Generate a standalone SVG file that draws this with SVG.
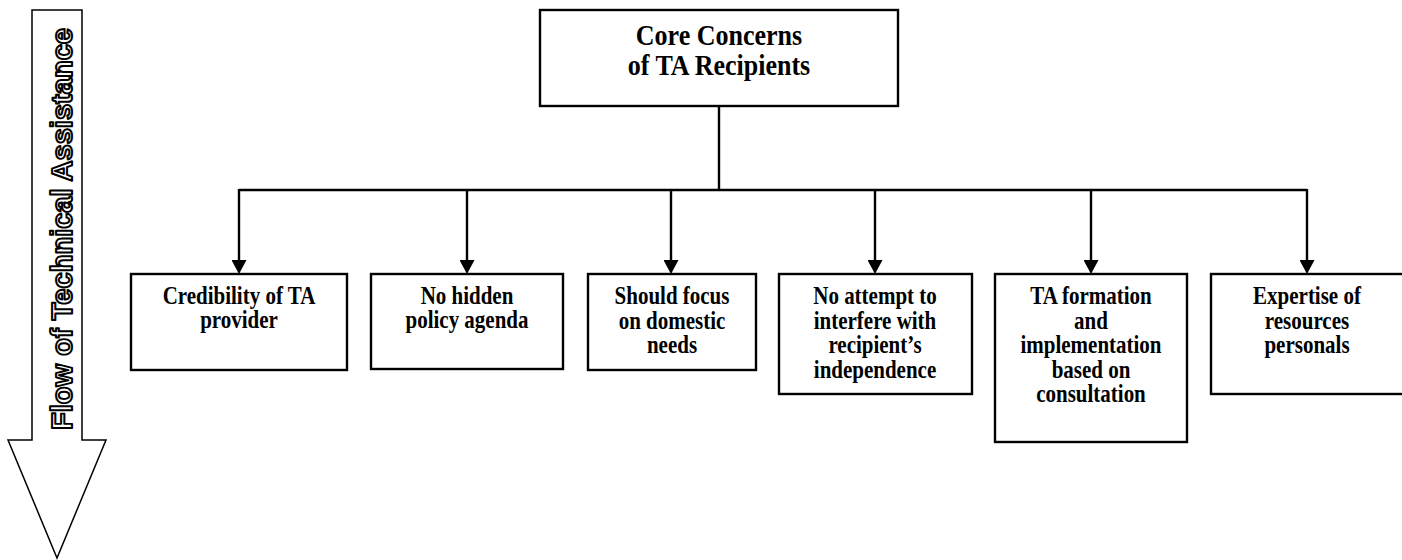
<svg xmlns="http://www.w3.org/2000/svg" width="1402" height="560" viewBox="0 0 1402 560">
  <style>
    .box { fill: #ffffff; stroke: #000000; stroke-width: 2.4; }
    .conn { fill: none; stroke: #000000; stroke-width: 2.4; }
    .lbl { font-family: "Liberation Serif", "Times New Roman", serif; font-weight: bold; font-size: 21px; text-anchor: middle; fill: #000000; }
    .title { font-family: "Liberation Serif", "Times New Roman", serif; font-weight: bold; font-size: 26px; text-anchor: middle; fill: #000000; }
    .flow { font-family: "Liberation Sans", Arial, sans-serif; font-weight: bold; font-size: 30px; text-anchor: middle; fill: #ffffff; stroke: #000000; stroke-width: 2; stroke-linejoin: round; }
  </style>
  <defs>
    <marker id="arrow" viewBox="0 0 14 15" markerWidth="14" markerHeight="15" refX="2" refY="7.5" orient="auto" markerUnits="userSpaceOnUse">
      <path d="M0,0 L14,7.5 L0,15 z" fill="#000000"/>
    </marker>
  </defs>
  <rect x="0" y="0" width="1402" height="560" fill="#ffffff"/>

  <g id="flow-arrow">
    <polygon points="32,10 82,10 82,440 106,440 57,558 8,440 32,440" fill="#ffffff" stroke="#000000" stroke-width="1.5"/>
    <text class="flow" transform="translate(72,229) rotate(-90)" x="0" y="0" textLength="402" lengthAdjust="spacingAndGlyphs">Flow of Technical Assistance</text>
  </g>

  <g id="connectors">
    <line class="conn" x1="719" y1="106" x2="719" y2="190"/>
    <line class="conn" x1="239" y1="190" x2="1307" y2="190"/>
    <line class="conn" x1="239" y1="189" x2="239" y2="262" marker-end="url(#arrow)"/>
    <line class="conn" x1="467" y1="190" x2="467" y2="262" marker-end="url(#arrow)"/>
    <line class="conn" x1="671" y1="190" x2="671" y2="262" marker-end="url(#arrow)"/>
    <line class="conn" x1="875" y1="190" x2="875" y2="262" marker-end="url(#arrow)"/>
    <line class="conn" x1="1091" y1="190" x2="1091" y2="262" marker-end="url(#arrow)"/>
    <line class="conn" x1="1307" y1="189" x2="1307" y2="262" marker-end="url(#arrow)"/>
  </g>

  <g id="core">
    <rect class="box" x="540" y="10" width="358" height="96"/>
    <text class="title" transform="translate(719,45) scale(1,1.1)">Core Concerns</text>
    <text class="title" transform="translate(719,75) scale(1,1.1)">of TA Recipients</text>
  </g>

  <g id="credibility">
    <rect class="box" x="131" y="274" width="216" height="96"/>
    <text class="lbl" transform="translate(239,304) scale(1,1.15)">Credibility of TA</text>
    <text class="lbl" transform="translate(239,328) scale(1,1.15)">provider</text>
  </g>

  <g id="hidden-agenda">
    <rect class="box" x="371" y="274" width="192" height="95"/>
    <text class="lbl" transform="translate(467,304) scale(1,1.15)">No hidden</text>
    <text class="lbl" transform="translate(467,328) scale(1,1.15)">policy agenda</text>
  </g>

  <g id="domestic-needs">
    <rect class="box" x="588" y="274" width="168" height="96"/>
    <text class="lbl" transform="translate(672,304) scale(1,1.15)">Should focus</text>
    <text class="lbl" transform="translate(672,329) scale(1,1.15)">on domestic</text>
    <text class="lbl" transform="translate(672,353) scale(1,1.15)">needs</text>
  </g>

  <g id="independence">
    <rect class="box" x="779" y="274" width="193" height="120"/>
    <text class="lbl" transform="translate(875,304) scale(1,1.15)">No attempt to</text>
    <text class="lbl" transform="translate(875,329) scale(1,1.15)">interfere with</text>
    <text class="lbl" transform="translate(875,353) scale(1,1.15)">recipient’s</text>
    <text class="lbl" transform="translate(875,378) scale(1,1.15)">independence</text>
  </g>

  <g id="consultation">
    <rect class="box" x="995" y="274" width="192" height="168"/>
    <text class="lbl" transform="translate(1091,304) scale(1,1.15)">TA formation</text>
    <text class="lbl" transform="translate(1091,329) scale(1,1.15)">and</text>
    <text class="lbl" transform="translate(1091,353) scale(1,1.15)">implementation</text>
    <text class="lbl" transform="translate(1091,378) scale(1,1.15)">based on</text>
    <text class="lbl" transform="translate(1091,402) scale(1,1.15)">consultation</text>
  </g>

  <g id="expertise">
    <rect class="box" x="1211" y="274" width="200" height="120"/>
    <text class="lbl" transform="translate(1307,304) scale(1,1.15)">Expertise of</text>
    <text class="lbl" transform="translate(1307,329) scale(1,1.15)">resources</text>
    <text class="lbl" transform="translate(1307,353) scale(1,1.15)">personals</text>
  </g>
</svg>
